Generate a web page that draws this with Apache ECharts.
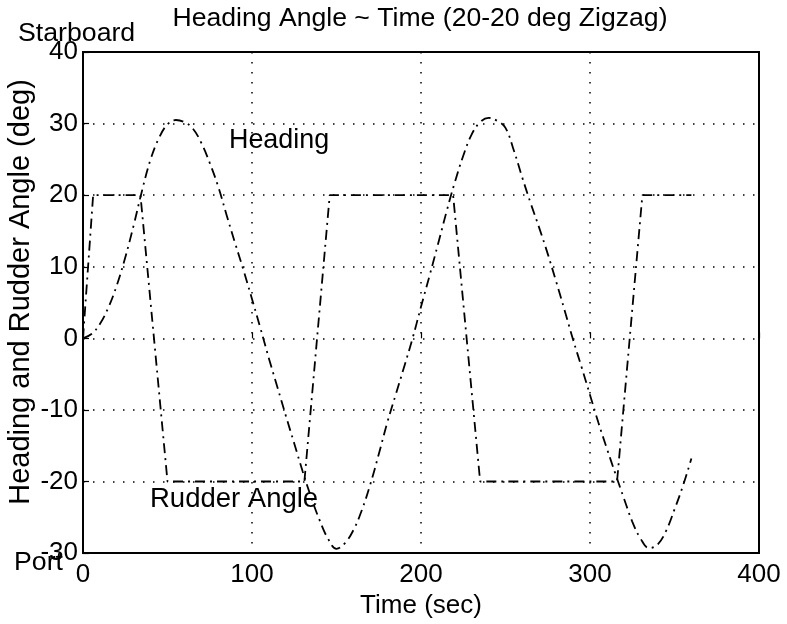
<!DOCTYPE html>
<html><head><meta charset="utf-8">
<script src="https://cdn.jsdelivr.net/npm/echarts@6/dist/echarts.min.js"></script>
<style>html,body{margin:0;padding:0;background:#fff}#c{width:787px;height:624px}</style>
</head><body><div id="c"></div>
<script>
const xTicks = [0, 100, 200, 300, 400];
const yTicks = [-30, -20, -10, 0, 10, 20, 30, 40];
const headingTime = [0,5,10,15,20,25,30,35,40,45,50,55,60,65,70,75,80,85,90,95,100,105,110,115,120,125,130,135,140,145,150,155,160,165,170,175,180,185,190,195,200,205,210,215,220,225,230,235,240,245,250,255,260,265,270,275,280,285,290,295,300,305,310,315,320,325,330,335,340,345,350,355,360];
const headingDeg = [0,0.6,2,4.3,7.4,11.3,15.8,20.7,25,28,29.9,30.5,30.2,29.3,27.3,24.5,21.2,17.2,13.3,9.5,5.5,1.4,-2.8,-6.8,-10.8,-14.7,-18.6,-22.2,-25.4,-28,-29.4,-28.6,-26.8,-24,-20.4,-16.2,-11.8,-7.9,-4,0,4.4,8.7,13.1,17.6,21.8,25.5,28.5,30.2,30.8,30.4,29.4,26.2,22.4,18.8,15.4,11.8,7.9,3.9,-0.2,-4,-7.9,-11.8,-15.4,-18.9,-22.3,-25.6,-28,-29.3,-28.8,-26.9,-23.9,-20.6,-16.8];
const rudderTime = [0,6,34,50,131,146,219,235,316,331,360];
const rudderDeg = [0,20,20,-20,-20,20,20,-20,-20,20,20];
const titleText = 'Heading Angle ~ Time (20-20 deg Zigzag)';
const xName = 'Time (sec)';
const yName = 'Heading and Rudder Angle (deg)';
const topLabel = 'Starboard';
const bottomLabel = 'Port';
const headingLabel = 'Heading';
const rudderLabel = 'Rudder Angle';

const FONT = '"Liberation Sans", Arial, Helvetica, sans-serif';
const chart = echarts.init(document.getElementById('c'));
const pair = (xs, ys) => xs.map((x, i) => [x, ys[i]]);
const dashDot = [10, 5, 2, 5];
const txt = (s, size, x, y, align, rot) => ({
  type: 'text', x: x, y: y, rotation: rot || 0,
  style: { text: s, font: size + 'px ' + FONT, fill: '#000', align: align || 'left', verticalAlign: 'middle' }
});
chart.setOption({
  animation: false,
  backgroundColor: '#fff',
  grid: { left: 83, top: 52, right: 28, bottom: 69, show: true, borderColor: '#000', borderWidth: 2 },
  xAxis: {
    type: 'value', min: 0, max: 400, interval: 100,
    axisLine: { show: false },
    axisTick: { inside: true, length: 6, lineStyle: { color: '#000', width: 1.2 } },
    axisLabel: { color: '#000', fontSize: 26, fontFamily: FONT, margin: 9,
      formatter: v => xTicks.includes(v) ? String(v) : '' },
    splitLine: { show: true, lineStyle: { color: '#000', type: [1.5, 8.5], width: 1.5 } },
    name: xName, nameLocation: 'middle', nameGap: 36,
    nameTextStyle: { color: '#000', fontSize: 26, fontFamily: FONT }
  },
  yAxis: {
    type: 'value', min: -30, max: 40, interval: 10,
    axisLine: { show: false },
    axisTick: { inside: true, length: 6, lineStyle: { color: '#000', width: 1.2 } },
    axisLabel: { color: '#000', fontSize: 26, fontFamily: FONT, margin: 5,
      formatter: v => yTicks.includes(v) ? String(v) : '' },
    splitLine: { show: true, lineStyle: { color: '#000', type: [1.5, 8.5], width: 1.5 } }
  },
  series: [
    { type: 'line', name: 'Heading', data: pair(headingTime, headingDeg), showSymbol: false, smooth: 0.4,
      lineStyle: { color: '#000', width: 1.8, type: dashDot } },
    { type: 'line', name: 'Rudder Angle', data: pair(rudderTime, rudderDeg), showSymbol: false,
      lineStyle: { color: '#000', width: 1.8, type: dashDot } }
  ],
  graphic: [
    txt(titleText, 26.6, 420, 19, 'center'),
    txt(topLabel, 26.7, 18, 34),
    txt(bottomLabel, 26.7, 14, 563),
    txt(headingLabel, 26.9, 229, 141),
    txt(rudderLabel, 27.5, 150, 499),
    txt(yName, 29, 21, 292, 'center', Math.PI / 2)
  ]
});
</script></body></html>
